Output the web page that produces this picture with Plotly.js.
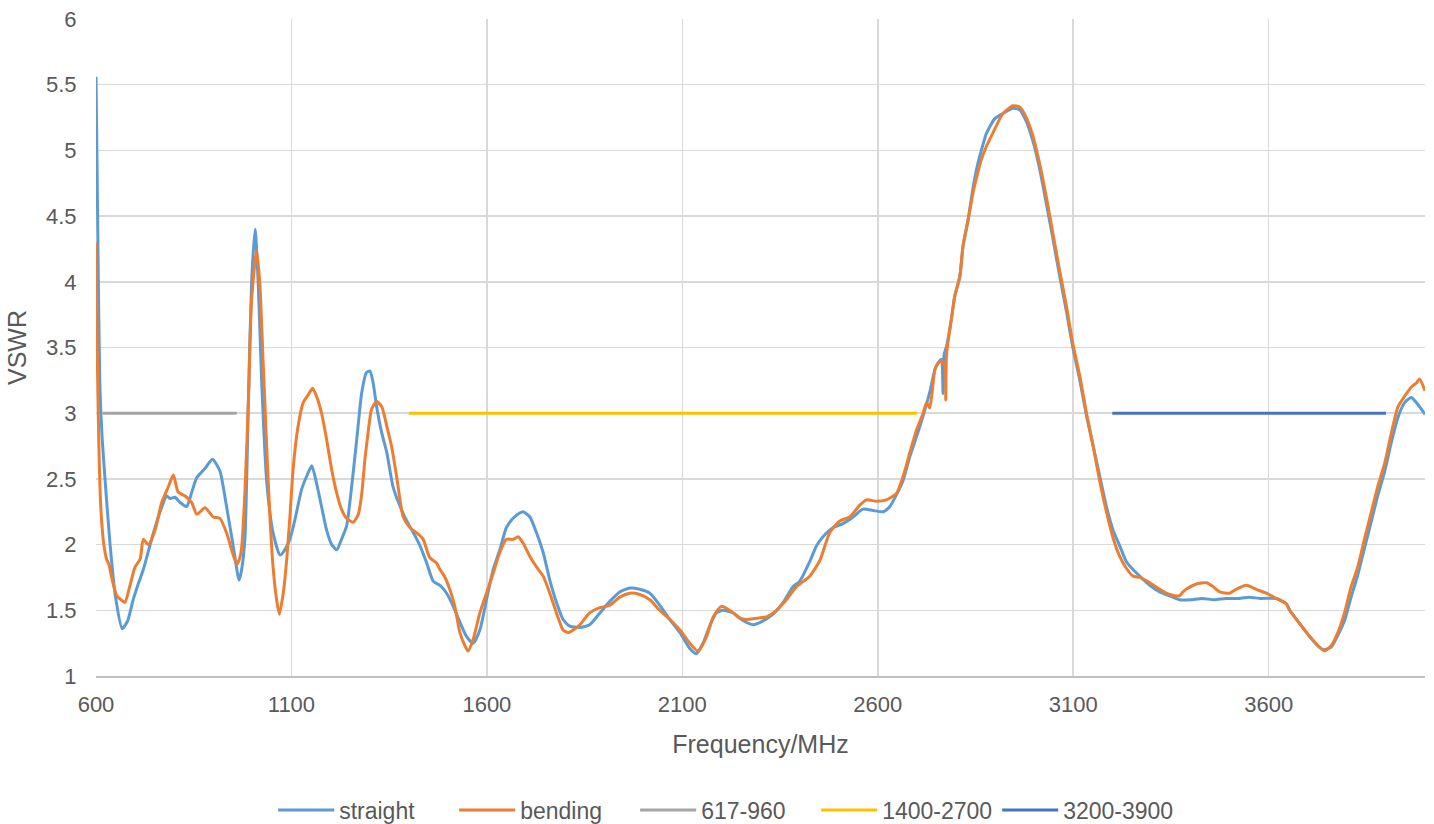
<!DOCTYPE html>
<html>
<head>
<meta charset="utf-8">
<script src="https://cdn.plot.ly/plotly-3.0.1.min.js"></script>
<style>html,body{margin:0;padding:0;background:#fff;}#chart{width:1434px;height:824px;}</style>
</head>
<body>
<div id="chart"></div>
<script>
const freqStraight = [600,603,606,610,616,623,636,650,667,681,695,708,721,734,747,764,781,790,802,815,832,845,858,879,898,917,934,951,966,972,981,990,998,1007,1015,1024,1037,1053,1071,1083,1096,1109,1126,1139,1152,1164,1177,1190,1203,1216,1228,1241,1254,1267,1280,1292,1301,1309,1318,1331,1344,1360,1378,1395,1412,1429,1446,1463,1480,1497,1514,1531,1548,1565,1582,1599,1616,1633,1650,1667,1684,1693,1710,1727,1744,1761,1778,1795,1812,1838,1863,1889,1915,1940,1966,1991,2017,2042,2068,2094,2119,2136,2153,2170,2187,2204,2230,2256,2281,2307,2332,2358,2383,2400,2426,2443,2460,2486,2511,2537,2562,2588,2614,2631,2648,2665,2682,2699,2716,2733,2746,2754,2763,2767,2770,2776,2788,2797,2810,2818,2831,2844,2856,2865,2878,2899,2920,2946,2963,2980,2997,3014,3031,3048,3065,3083,3099,3117,3134,3151,3168,3185,3202,3219,3236,3253,3270,3296,3321,3347,3372,3400,3430,3460,3490,3520,3550,3580,3620,3645,3654,3679,3705,3726,3740,3760,3777,3794,3811,3828,3845,3862,3879,3897,3914,3931,3948,3965,3978,3986,4000];
const vswrStraight = [5.56,4.8,4.0,3.2,2.8,2.5,2.0,1.6,1.36,1.42,1.58,1.7,1.81,1.95,2.09,2.25,2.37,2.35,2.36,2.32,2.29,2.4,2.51,2.58,2.65,2.56,2.29,1.99,1.73,1.8,2.05,3.1,3.99,4.4,3.99,3.23,2.47,2.09,1.92,1.96,2.04,2.19,2.42,2.52,2.6,2.47,2.29,2.11,2.0,1.96,2.04,2.14,2.44,2.8,3.16,3.31,3.32,3.23,3.05,2.85,2.7,2.44,2.29,2.18,2.09,1.99,1.86,1.72,1.69,1.63,1.53,1.41,1.3,1.25,1.35,1.58,1.81,1.96,2.13,2.2,2.24,2.25,2.21,2.09,1.94,1.73,1.56,1.43,1.38,1.37,1.39,1.48,1.57,1.64,1.67,1.66,1.63,1.54,1.43,1.33,1.21,1.17,1.25,1.38,1.48,1.5,1.48,1.42,1.39,1.42,1.47,1.56,1.68,1.72,1.87,1.99,2.06,2.13,2.16,2.21,2.27,2.26,2.25,2.29,2.38,2.49,2.67,2.82,2.98,3.16,3.33,3.38,3.41,3.15,3.45,3.51,3.71,3.89,4.04,4.27,4.47,4.72,4.9,5.0,5.13,5.24,5.28,5.32,5.31,5.22,5.07,4.86,4.6,4.33,4.05,3.77,3.5,3.25,2.98,2.75,2.52,2.29,2.11,1.99,1.87,1.81,1.76,1.69,1.64,1.61,1.58,1.58,1.59,1.58,1.59,1.59,1.6,1.59,1.59,1.55,1.5,1.4,1.3,1.23,1.2,1.22,1.31,1.42,1.6,1.77,1.97,2.17,2.37,2.56,2.78,2.97,3.08,3.12,3.08,3.05,2.99];

const freqBending = [600,603,607,612,620,627,633,640,653,664,674,687,700,713,721,734,751,768,785,798,810,828,845,858,879,900,917,934,947,960,968,973,981,990,998,1011,1019,1028,1037,1045,1053,1062,1069,1079,1088,1096,1105,1117,1130,1143,1154,1164,1177,1190,1203,1216,1228,1241,1258,1271,1280,1288,1296,1305,1318,1331,1344,1356,1369,1386,1403,1420,1437,1454,1471,1480,1493,1505,1518,1531,1544,1552,1565,1582,1599,1616,1633,1650,1667,1680,1693,1710,1727,1744,1761,1778,1795,1808,1821,1838,1863,1889,1915,1940,1966,1991,2017,2042,2068,2094,2119,2140,2162,2179,2200,2221,2247,2264,2290,2315,2341,2366,2392,2426,2452,2477,2503,2528,2554,2571,2597,2622,2648,2665,2682,2699,2716,2725,2733,2746,2754,2763,2772,2774,2776,2788,2797,2810,2818,2831,2844,2856,2865,2878,2899,2920,2946,2963,2980,2997,3014,3031,3048,3065,3083,3099,3117,3134,3151,3168,3185,3202,3219,3236,3253,3270,3296,3321,3347,3372,3381,3389,3415,3441,3458,3475,3500,3517,3543,3568,3594,3620,3645,3654,3679,3705,3726,3743,3760,3777,3794,3811,3828,3845,3862,3879,3897,3914,3931,3948,3965,3978,3986,4000];
const vswrBending = [4.3,3.5,2.8,2.3,2.0,1.89,1.85,1.75,1.61,1.58,1.56,1.69,1.83,1.89,2.04,2.0,2.11,2.32,2.44,2.53,2.4,2.37,2.32,2.23,2.28,2.21,2.2,2.09,1.96,1.85,1.9,1.99,2.4,3.1,3.86,4.24,3.99,3.36,2.72,2.21,1.83,1.58,1.47,1.63,1.89,2.21,2.6,2.9,3.08,3.14,3.19,3.13,3.0,2.8,2.57,2.39,2.27,2.2,2.17,2.23,2.39,2.65,2.85,3.03,3.09,3.05,2.9,2.75,2.52,2.21,2.13,2.09,2.04,1.9,1.86,1.81,1.75,1.66,1.53,1.33,1.23,1.19,1.28,1.48,1.63,1.78,1.94,2.04,2.04,2.06,2.01,1.91,1.83,1.76,1.63,1.48,1.35,1.33,1.35,1.39,1.48,1.52,1.54,1.6,1.63,1.62,1.58,1.5,1.43,1.35,1.25,1.19,1.3,1.45,1.53,1.5,1.44,1.43,1.44,1.45,1.5,1.58,1.68,1.76,1.88,2.09,2.18,2.21,2.3,2.34,2.33,2.34,2.39,2.52,2.7,2.87,3.0,3.08,3.04,3.33,3.38,3.4,3.35,3.1,3.45,3.71,3.89,4.04,4.27,4.47,4.68,4.83,4.93,5.03,5.16,5.28,5.34,5.33,5.25,5.11,4.9,4.65,4.37,4.09,3.81,3.53,3.28,3.0,2.75,2.48,2.25,2.05,1.91,1.82,1.76,1.75,1.71,1.66,1.62,1.61,1.64,1.66,1.7,1.71,1.68,1.64,1.63,1.66,1.69,1.66,1.63,1.59,1.55,1.5,1.4,1.3,1.23,1.19,1.23,1.33,1.48,1.68,1.83,2.04,2.24,2.44,2.62,2.85,3.05,3.13,3.2,3.23,3.26,3.17];

const bandNames = ["617-960", "1400-2700", "3200-3900"];
const bandStart = [617, 1400, 3200];
const bandEnd = [960, 2700, 3900];
const bandLevel = [3, 3, 3];
const bandColors = ["#A5A5A5", "#FFC000", "#4472C4"];

const xTickVals = [600, 1100, 1600, 2100, 2600, 3100, 3600];
const yTickVals = [1, 1.5, 2, 2.5, 3, 3.5, 4, 4.5, 5, 5.5, 6];

const traces = [
  {x: freqStraight, y: vswrStraight, name: "straight", mode: "lines", line: {color: "#5B9BD5", width: 3, shape: "spline", smoothing: 0.6}},
  {x: freqBending, y: vswrBending, name: "bending", mode: "lines", line: {color: "#ED7D31", width: 3, shape: "spline", smoothing: 0.6}}
];
bandNames.forEach((n, i) => {
  traces.push({x: [bandStart[i], bandEnd[i]], y: [bandLevel[i], bandLevel[i]], name: n, mode: "lines", line: {color: bandColors[i], width: 3}});
});

const fontFam = "Liberation Sans, Arial, sans-serif";
const layout = {
  width: 1434, height: 824,
  margin: {l: 96, r: 9, t: 19, b: 148, autoexpand: false},
  paper_bgcolor: "#fff", plot_bgcolor: "#fff",
  font: {family: fontFam, color: "#595959", size: 23},
  showlegend: true,
  legend: {orientation: "h", x: 0.1333, xanchor: "left", y: -0.204, yanchor: "middle", font: {size: 23, color: "#595959"}, itemwidth: 56, entrywidth: 110, entrywidthmode: "pixels", tracegroupgap: 0},
  xaxis: {
    range: [600, 4000], tickmode: "array", tickvals: xTickVals, ticktext: xTickVals.map(String),
    automargin: false,
    showgrid: true, gridcolor: "#D9D9D9", gridwidth: 1.5, zeroline: false,
    showline: true, linecolor: "#BFBFBF", linewidth: 1.5,
    ticks: "outside", ticklen: 8, tickcolor: "rgba(0,0,0,0)",
    tickfont: {size: 22, color: "#595959"},
    title: {text: "Frequency/MHz", font: {size: 25, color: "#595959"}, standoff: 19}
  },
  yaxis: {
    range: [1, 6], tickmode: "array", tickvals: yTickVals, ticktext: yTickVals.map(String),
    automargin: false,
    showgrid: true, gridcolor: "#D9D9D9", gridwidth: 1.5, zeroline: false,
    showline: false,
    ticks: "outside", ticklen: 14, tickcolor: "rgba(0,0,0,0)",
    tickfont: {size: 22, color: "#595959"},
    title: {text: "VSWR", font: {size: 25, color: "#595959"}, standoff: 12}
  }
};
Plotly.newPlot("chart", traces, layout, {displayModeBar: false, staticPlot: true});
</script>
</body>
</html>
